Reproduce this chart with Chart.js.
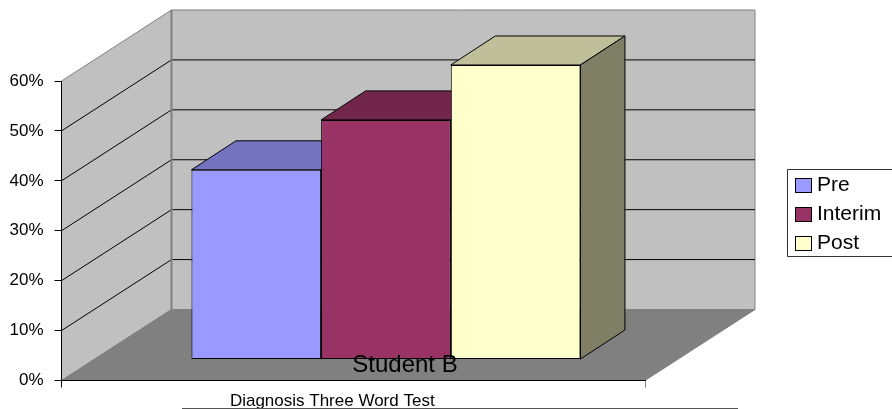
<!DOCTYPE html>
<html>
<head>
<meta charset="utf-8">
<title>Student B</title>
<script src="https://cdn.jsdelivr.net/npm/chart.js@4"></script>
<style>
  html, body { margin: 0; padding: 0; background: #fff; overflow: hidden; }
  #wrap { position: relative; width: 892px; height: 409px; }
</style>
</head>
<body>
<div id="wrap"><canvas id="chart"></canvas></div>
<script>
const categories = ['Diagnosis Three Word Test'];
const preValues = [38];
const interimValues = [48];
const postValues = [59];
const tickStep = 10;
const tickMax = 60;

const FONT = '"Liberation Sans", Arial, sans-serif';

// pseudo-3D geometry, pixels
const WALL = { dx: 110, dy: -71 };
const BAR_SHIFT = { dx: 32.7, dy: -21 };
const BAR_DEPTH = { dx: 44.5, dy: -29 };

function poly(ctx, pts, fill, stroke, lw) {
  ctx.beginPath();
  pts.forEach((p, i) => i ? ctx.lineTo(p[0], p[1]) : ctx.moveTo(p[0], p[1]));
  ctx.closePath();
  if (fill) { ctx.fillStyle = fill; ctx.fill(); }
  if (stroke) { ctx.strokeStyle = stroke; ctx.lineWidth = lw || 1; ctx.stroke(); }
}

const room = {
  id: 'room',
  beforeDraw(chart) {
    const { ctx, chartArea: a, scales: { y } } = chart;
    const bottom = y.getPixelForValue(0);
    const top = y.getPixelForValue(tickMax);
    const bx = a.left + WALL.dx, rx = a.right + WALL.dx;
    ctx.save();
    // back wall, side wall, floor
    poly(ctx, [[bx, top + WALL.dy], [rx, top + WALL.dy], [rx, bottom + WALL.dy], [bx, bottom + WALL.dy]], '#c0c0c0', '#808080', 1);
    poly(ctx, [[a.left, top], [bx, top + WALL.dy], [bx, bottom + WALL.dy], [a.left, bottom]], '#c0c0c0', '#808080', 1);
    poly(ctx, [[a.left, bottom], [a.right, bottom], [rx, bottom + WALL.dy], [bx, bottom + WALL.dy]], '#808080', '#808080', 1);
    // gridlines run along the side wall and across the back
    ctx.strokeStyle = '#000';
    ctx.lineWidth = 1;
    for (let v = tickStep; v < tickMax; v += tickStep) {
      const py = y.getPixelForValue(v);
      ctx.beginPath();
      ctx.moveTo(a.left, py);
      ctx.lineTo(bx, py + WALL.dy);
      ctx.lineTo(rx, py + WALL.dy);
      ctx.stroke();
    }
    // heavier corner edge of the room
    ctx.strokeStyle = '#808080';
    ctx.lineWidth = 2;
    ctx.beginPath();
    ctx.moveTo(bx, top + WALL.dy);
    ctx.lineTo(bx, bottom + WALL.dy);
    ctx.stroke();
    ctx.restore();
  },
  beforeDatasetsDraw(chart) {
    const { ctx } = chart;
    ctx.save();
    ctx.translate(BAR_SHIFT.dx, BAR_SHIFT.dy);
    // top and side faces go down first, left to right, fronts cover them
    chart.data.datasets.forEach((ds, i) => {
      const bar = chart.getDatasetMeta(i).data[0];
      const l = bar.x - bar.width / 2, r = bar.x + bar.width / 2;
      const d = BAR_DEPTH;
      poly(ctx, [[l, bar.y], [l + d.dx, bar.y + d.dy], [r + d.dx, bar.y + d.dy], [r, bar.y]], ds.topColor, '#000', 1);
      poly(ctx, [[r, bar.y], [r + d.dx, bar.y + d.dy], [r + d.dx, bar.base + d.dy], [r, bar.base]], ds.sideColor, '#000', 1);
    });
  },
  afterDatasetsDraw(chart) {
    chart.ctx.restore();
  },
  afterDraw(chart) {
    const { ctx } = chart;
    ctx.save();
    ctx.textBaseline = 'middle';
    // axis title sits on top of the floor
    ctx.fillStyle = '#000';
    ctx.font = '24px ' + FONT;
    ctx.textAlign = 'center';
    ctx.fillText('Student B', 405, 365);
    // rule under the category label
    ctx.strokeStyle = '#555';
    ctx.lineWidth = 1;
    ctx.beginPath();
    ctx.moveTo(182, 408.5);
    ctx.lineTo(738, 408.5);
    ctx.stroke();
    // legend box, its right side runs off the page
    ctx.strokeStyle = '#333';
    ctx.beginPath();
    ctx.moveTo(892, 169.5);
    ctx.lineTo(787.5, 169.5);
    ctx.lineTo(787.5, 256.5);
    ctx.lineTo(892, 256.5);
    ctx.stroke();
    ctx.font = '21px ' + FONT;
    ctx.textAlign = 'left';
    chart.data.datasets.forEach((ds, i) => {
      const top = 178.5 + i * 29;
      ctx.fillStyle = ds.backgroundColor;
      ctx.fillRect(795.5, top, 16, 14);
      ctx.strokeStyle = '#000';
      ctx.strokeRect(795.5, top, 16, 14);
      ctx.fillStyle = '#000';
      ctx.fillText(ds.label, 817, top + 7);
    });
    ctx.restore();
  }
};

new Chart(document.getElementById('chart'), {
  type: 'bar',
  data: {
    labels: categories,
    datasets: [
      { label: 'Pre', data: preValues, backgroundColor: '#9999ff', topColor: '#7373bf', sideColor: '#4c4c7f', borderColor: '#000', borderWidth: 1, borderSkipped: false },
      { label: 'Interim', data: interimValues, backgroundColor: '#993366', topColor: '#73264c', sideColor: '#4c1933', borderColor: '#000', borderWidth: 1, borderSkipped: false },
      { label: 'Post', data: postValues, backgroundColor: '#ffffcc', topColor: '#bfbf99', sideColor: '#7f7f66', borderColor: '#000', borderWidth: 1, borderSkipped: false }
    ]
  },
  options: {
    responsive: true,
    maintainAspectRatio: false,
    animation: false,
    events: [],
    categoryPercentage: 2 / 3,
    barPercentage: 1,
    layout: { padding: { left: 0, right: 247, top: 81, bottom: 0 } },
    plugins: { legend: { display: false }, tooltip: { enabled: false } },
    datasets: { bar: { clip: false } },
    scales: {
      x: {
        afterFit(scale) { scale.height = 28.5; },
        grid: { offset: true, drawOnChartArea: false, tickLength: 7, color: c => c.index === 0 ? '#000' : '#808080' },
        border: { color: '#000' },
        ticks: { color: '#000', font: { family: FONT, size: 17 }, padding: 4, labelOffset: -21, maxRotation: 0 }
      },
      y: {
        min: 0,
        max: tickMax,
        afterFit(scale) { scale.width = 61.5; },
        grid: { drawOnChartArea: false, tickLength: 7, color: '#000' },
        border: { color: '#000' },
        ticks: { stepSize: tickStep, color: '#000', font: { family: FONT, size: 17 }, padding: 11, callback: v => v + '%' }
      }
    }
  },
  plugins: [room]
});
</script>
</body>
</html>
